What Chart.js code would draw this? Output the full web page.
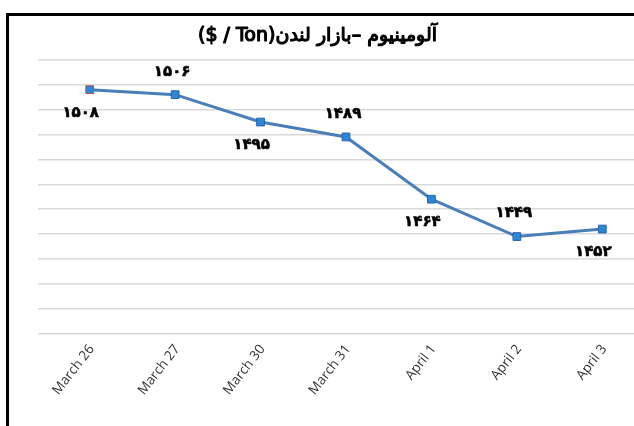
<!DOCTYPE html>
<html>
<head>
<meta charset="utf-8">
<script src="https://cdn.jsdelivr.net/npm/chart.js@4"></script>
<style>
  html, body { margin: 0; padding: 0; background: #fff; overflow: hidden; }
  #box { position: absolute; left: 6px; top: 13px; width: 680px; height: 470px; border: 3px solid #000; }
  canvas { display: block; }
</style>
</head>
<body>
<div id="box"><canvas id="myChart" dir="rtl" width="680" height="382"></canvas></div>
<script>
var chartTitle = 'آلومینیوم –بازار لندن(Ton / $)';
var dates = ['March 26', 'March 27', 'March 30', 'March 31', 'April 1', 'April 2', 'April 3'];
var prices = [1508, 1506, 1495, 1489, 1464, 1449, 1452];
var labelSide = ['below', 'above', 'below', 'above', 'below', 'above', 'below'];
var yMin = 1410, yMax = 1520, yStep = 10;

function toPersian(v) {
    return String(v).replace(/\d/g, function (d) { return '۰۱۲۳۴۵۶۷۸۹'[d]; });
}

// the bold DejaVu face has no arabic shaping, so the title is drawn
// regular and thickened with a stroke (chart.js title only keeps the space)
var boldTitle = {
    id: 'boldTitle',
    afterDraw: function (chart) {
        var tb = chart.titleBlock;
        var opts = tb.options;
        var ctx = chart.ctx;
        var y = tb.top + opts.padding.top + opts.font.size * 1.2 / 2;
        var x = tb.left + tb.width / 2 - 24;
        ctx.save();
        ctx.font = opts.font.size + 'px "DejaVu Sans"';
        ctx.direction = 'rtl';
        ctx.textAlign = 'center';
        ctx.textBaseline = 'middle';
        ctx.fillStyle = '#000';
        ctx.strokeStyle = '#000';
        ctx.lineWidth = 1.2;
        ctx.lineJoin = 'round';
        ctx.fillText(chartTitle, x, y);
        ctx.strokeText(chartTitle, x, y);
        ctx.restore();
    }
};

// value labels above / below the points, alternating like the original
var valueLabels = {
    id: 'valueLabels',
    afterDatasetsDraw: function (chart) {
        var ctx = chart.ctx;
        var meta = chart.getDatasetMeta(0);
        ctx.save();
        ctx.font = 'bold 15px "DejaVu Sans"';
        ctx.fillStyle = '#000';
        ctx.strokeStyle = '#000';
        ctx.lineWidth = 0.6;
        ctx.textAlign = 'center';
        ctx.textBaseline = 'middle';
        meta.data.forEach(function (pt, i) {
            var dy = labelSide[i] === 'above' ? -23 : 23;
            var dx = labelSide[i] === 'above' ? -3 : -9;
            ctx.fillText(toPersian(prices[i]), pt.x + dx, pt.y + dy);
            ctx.strokeText(toPersian(prices[i]), pt.x + dx, pt.y + dy);
        });
        ctx.restore();
    }
};

var pointBorders = prices.map(function (v, i) { return i === 0 ? '#c0504d' : '#2a66a8'; });

var myChart = new Chart(document.getElementById('myChart'), {
    type: 'line',
    data: {
        labels: dates,
        datasets: [{
            data: prices,
            borderColor: '#4a7ebb',
            borderWidth: 3,
            backgroundColor: '#2e86d6',
            pointStyle: 'rect',
            pointRadius: 5.5,
            pointBorderWidth: 1,
            pointBorderColor: pointBorders,
            pointBackgroundColor: '#2e86d6',
            tension: 0
        }]
    },
    options: {
        responsive: false,
        animation: false,
        events: [],
        layout: { padding: { left: 29, right: 44, top: 0, bottom: 0 } },
        plugins: {
            legend: { display: false },
            tooltip: { enabled: false },
            title: {
                display: true,
                text: chartTitle,
                color: 'rgba(0,0,0,0)',
                font: { family: '"DejaVu Sans"', size: 19, weight: 'normal' },
                padding: { top: 9, bottom: 12 }
            }
        },
        scales: {
            y: {
                min: yMin,
                max: yMax,
                ticks: { display: false, stepSize: yStep },
                border: { display: false },
                grid: { color: '#d9d9d9', lineWidth: 1.5, drawTicks: true, tickLength: 9 }
            },
            x: {
                offset: true,
                grid: { display: false },
                border: { display: false },
                ticks: {
                    color: '#333',
                    font: { family: '"Open Sans"', size: 13.5 },
                    minRotation: 52,
                    maxRotation: 52,
                    labelOffset: 2,
                    padding: 0
                }
            }
        }
    },
    plugins: [valueLabels, boldTitle]
});
</script>
</body>
</html>
